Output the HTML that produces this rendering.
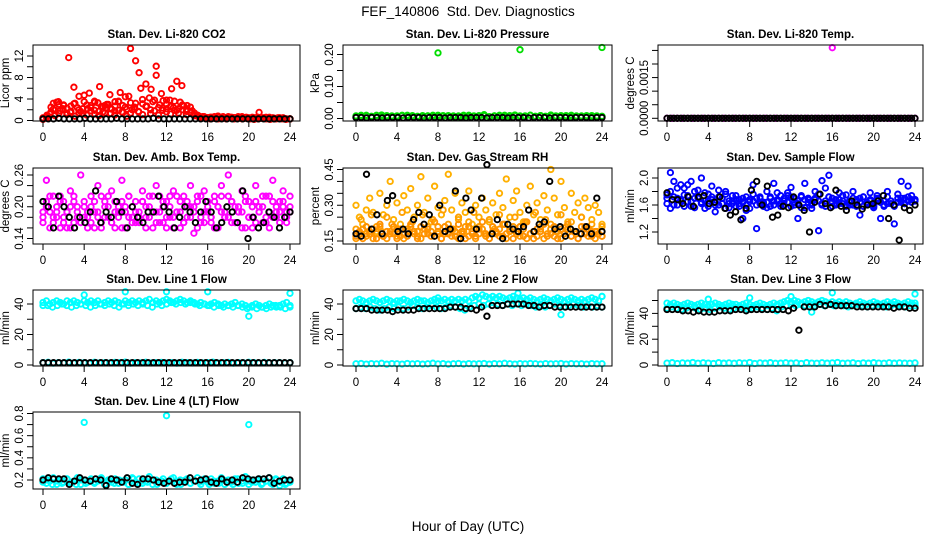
<!DOCTYPE html>
<html><head><meta charset="utf-8">
<style>
html,body{margin:0;padding:0;background:#fff;}
svg{display:block;font-family:"Liberation Sans",Arial,sans-serif;}
</style></head>
<body>
<svg id="fig" width="936" height="540" viewBox="0 0 936 540">
<rect width="936" height="540" fill="#fff"/>
<text x="468" y="16" text-anchor="middle" font-size="13.5">FEF_140806&#160; Std. Dev. Diagnostics</text>
<text x="468" y="531" text-anchor="middle" font-size="13.5">Hour of Day (UTC)</text>
</svg>
<script>
// ---------- data ----------
const xTicks = [0,4,8,12,16,20,24];
const xTickLabels = ["0","4","8","12","16","20","24"];

// CO2 (Licor ppm)
const co2RedA = [0.3,0.4,3.2,3.5,2.8,11.7,6.2,4.5,4.7,5.1,3.6,6.3,2.8,4.8,3.5,5.2,4.4,13.4,11.1,6.0,6.8,5.8,8.4,5.0,3.8,5.9,7.3,6.5,2.8,1.8,1.0,0.7,0.5,0.6,0.8,0.7,0.6,0.5,0.6,0.4,0.5,0.4,1.5,0.5,0.6,0.4,0.5,0.3,0.3];
const co2RedB = [0.4,0.6,1.2,2.1,3.4,1.8,2.9,2.3,1.5,3.1,2.4,1.7,3.5,2.2,2.8,1.9,3.3,2.6,1.4,3.0,2.1,2.7,3.6,1.6,2.5,4.5,2.0,3.2,8.9,3.9,2.6,4.2,3.5,10.1,2.9,3.7,2.2,3.8,2.4,1.9,3.4,2.7,2.0,1.5,1.0,0.8,0.6,0.7,0.5,0.6,0.7,0.8,0.6,0.5,0.7,0.6,0.5,0.6,0.7,0.5,0.4,0.6,0.5,0.4,0.5,0.6,0.4,0.5,0.3,0.4,0.5,0.3,0.3];
const co2RedC = [0.2,0.8,1.6,0.9,1.3,2.0,1.1,1.7,0.8,1.4,2.2,1.0,1.8,1.2,0.9,1.6,2.4,1.3,1.0,1.9,1.5,0.8,1.4,2.1,1.7,1.1,2.6,1.3,1.8,1.0,2.3,1.6,1.2,1.9,1.4,2.0,1.1,1.5,0.9,0.7,0.5,0.4,0.3,0.4,0.3,0.4,0.3,0.5,0.3,0.4,0.3,0.4,0.3,0.2,0.3,0.4,0.3,0.2,0.3,0.4,0.3,0.2,0.3];
const co2RedD = [0.5,1.0,2.5,1.9,3.0,2.2,1.4,2.7,3.2,2.0,1.3,2.9,2.4,3.4,1.7,2.6,3.0,2.3,1.8,3.5,2.8,2.1,3.3,2.5,1.6,3.1,2.7,2.0,3.8,2.4,1.9,3.0,2.6,3.6,2.2,2.9,1.7,2.5,1.4,0.9,0.6,0.5,0.6,0.5,0.7,0.6,0.5,0.6,0.5,0.7,0.5,0.6,0.4,0.5,0.6,0.4,0.5,0.4,0.3,0.5,0.4,0.3,0.3];
const co2Black = [0.3,0.3,0.3,0.4,0.3,0.3,0.3,0.3,0.4,0.3,0.3,0.3,0.3,0.3,0.4,0.3,0.3,0.3,0.3,0.3,0.3,0.4,0.3,0.3,0.3,0.3,0.3,0.3,0.3,0.3,0.3,0.3,0.3,0.3,0.3,0.3,0.3,0.3,0.3,0.3,0.3,0.3,0.3,0.3,0.3,0.3,0.3,0.3];

// Pressure (kPa)
const presGreen = [0.005,0.01,0.008,0.006,0.01,0.007,0.009,0.005,0.008,0.01,0.006,0.009,0.007,0.005,0.008,0.01,0.006,0.009,0.007,0.008,0.005,0.01,0.006,0.008,0.007,0.009,0.005,0.008,0.01,0.006,0.009,0.011,0.007,0.008,0.01,0.006,0.009,0.007,0.011,0.008,0.006,0.009,0.007,0.008,0.005,0.009,0.006,0.008,0.007];
const presGreenB = [0.008,0.006,0.01,0.007,0.009,0.011,0.006,0.008,0.005,0.009,0.01,0.007,0.006,0.009,0.008,0.006,0.01,0.007,0.009,0.005,0.008,0.006,0.01,0.007,0.009,0.012,0.006,0.008,0.007,0.01,0.005,0.009,0.008,0.006,0.01,0.007,0.009,0.006,0.008,0.005,0.009,0.007,0.01,0.006,0.008,0.007,0.009,0.005,0.006];
const presOutX = [8,16,24];
const presOutY = [0.205,0.215,0.222];
const presBlack = [0.003,0.003,0.002,0.003,0.003,0.002,0.003,0.003,0.003,0.002,0.003,0.003,0.003,0.002,0.003,0.003,0.003,0.002,0.003,0.003,0.003,0.002,0.003,0.003,0.003,0.002,0.003,0.003,0.003,0.002,0.003,0.003,0.003,0.002,0.003,0.003,0.003,0.002,0.003,0.003,0.003,0.002,0.003,0.003,0.003,0.002,0.003,0.003];

// Li-820 temp (degrees C)
const tempMag = [0,0,0,0,0,0,0,0,0,0,0,0,0,0,0,0,0,0,0,0,0,0,0,0,0,0,0,0,0,0,0,0,0,0,0,0,0,0,0,0,0,0,0,0,0,0,0,0,0];
const tempOutX = [16];
const tempOutY = [0.0026];
const tempBlack = [0,0,0,0,0,0,0,0,0,0,0,0,0,0,0,0,0,0,0,0,0,0,0,0,0,0,0,0,0,0,0,0,0,0,0,0,0,0,0,0,0,0,0,0,0,0,0,0,0,0,0,0,0,0,0,0,0,0,0,0,0,0,0,0,0,0,0,0,0,0,0,0,0];

// Amb box temp
const ambMagA = [0.17,0.25,0.19,0.22,0.18,0.16,0.21,0.19,0.23,0.17,0.20,0.26,0.18,0.16,0.22,0.19,0.24,0.17,0.21,0.18,0.23,0.16,0.20,0.25,0.19,0.22,0.17,0.21,0.18,0.23,0.16,0.20,0.19,0.24,0.22,0.17,0.21,0.18,0.23,0.19,0.16,0.22,0.20,0.24,0.15,0.21,0.18,0.23,0.19,0.17,0.22,0.20,0.24,0.18,0.26,0.21,0.17,0.19,0.23,0.16,0.21,0.18,0.24,0.20,0.17,0.22,0.19,0.25,0.18,0.21,0.23,0.19,0.22];
const ambMagB = [0.19,0.21,0.16,0.18,0.20,0.22,0.17,0.19,0.16,0.21,0.18,0.17,0.20,0.19,0.17,0.21,0.18,0.16,0.20,0.22,0.17,0.19,0.18,0.21,0.16,0.18,0.20,0.17,0.19,0.21,0.18,0.22,0.16,0.19,0.17,0.20,0.18,0.22,0.16,0.19,0.21,0.17,0.18,0.20,0.19,0.16,0.22,0.17,0.20,0.18,0.21,0.16,0.19,0.18,0.22,0.17,0.20,0.19,0.16,0.21,0.18,0.20,0.17,0.19,0.22,0.18,0.16,0.21,0.19,0.17,0.20,0.18,0.19];
const ambMagC = [0.18,0.20,0.22,0.17,0.19,0.21,0.18,0.16,0.20,0.22,0.19,0.17,0.21,0.18,0.20,0.16,0.19,0.22,0.18,0.20,0.17,0.21,0.19,0.16,0.20,0.22,0.18,0.19,0.17,0.21,0.20,0.18,0.22,0.17,0.19,0.21,0.16,0.20,0.18,0.22,0.19,0.17,0.21,0.18,0.20,0.22,0.17,0.19,0.21,0.18,0.16,0.20,0.22,0.19,0.18,0.21,0.17,0.20,0.19,0.22,0.18,0.16,0.21,0.19,0.20,0.17,0.22,0.18,0.20,0.19,0.21,0.17,0.20];
const ambBlack = [0.21,0.20,0.16,0.22,0.20,0.18,0.16,0.18,0.17,0.19,0.23,0.17,0.19,0.18,0.21,0.19,0.16,0.20,0.18,0.17,0.19,0.19,0.22,0.20,0.19,0.16,0.18,0.20,0.19,0.17,0.19,0.21,0.19,0.16,0.17,0.20,0.19,0.17,0.23,0.14,0.18,0.16,0.17,0.19,0.18,0.16,0.18,0.19];

// Gas stream RH (percent)
const rhA = [0.30,0.25,0.22,0.28,0.33,0.27,0.19,0.35,0.26,0.30,0.40,0.24,0.31,0.22,0.34,0.28,0.37,0.25,0.30,0.42,0.27,0.33,0.23,0.38,0.29,0.26,0.32,0.43,0.28,0.35,0.24,0.31,0.27,0.36,0.22,0.30,0.25,0.33,0.28,0.23,0.31,0.26,0.35,0.29,0.41,0.25,0.32,0.36,0.27,0.23,0.30,0.38,0.26,0.31,0.24,0.34,0.28,0.45,0.33,0.26,0.40,0.29,0.23,0.35,0.27,0.31,0.25,0.33,0.29,0.24,0.30,0.27,0.22];
const rhB = [0.17,0.19,0.16,0.21,0.18,0.20,0.16,0.22,0.17,0.19,0.18,0.21,0.16,0.20,0.18,0.17,0.22,0.19,0.16,0.21,0.18,0.20,0.17,0.23,0.19,0.16,0.21,0.18,0.20,0.17,0.22,0.19,0.16,0.21,0.18,0.17,0.20,0.23,0.18,0.16,0.21,0.19,0.17,0.22,0.18,0.20,0.16,0.19,0.21,0.17,0.23,0.18,0.16,0.20,0.19,0.22,0.17,0.18,0.21,0.16,0.20,0.18,0.22,0.17,0.19,0.16,0.21,0.18,0.20,0.17,0.19,0.18,0.17];
const rhC = [0.20,0.24,0.18,0.26,0.21,0.19,0.25,0.22,0.17,0.27,0.20,0.23,0.19,0.26,0.21,0.24,0.18,0.28,0.22,0.20,0.25,0.19,0.23,0.27,0.21,0.18,0.24,0.20,0.26,0.22,0.19,0.25,0.21,0.23,0.18,0.27,0.20,0.24,0.22,0.19,0.26,0.21,0.23,0.18,0.25,0.20,0.22,0.19,0.21];
const rhD = [0.16,0.18,0.20,0.17,0.19,0.16,0.18,0.21,0.17,0.16,0.19,0.18,0.20,0.17,0.16,0.19,0.21,0.18,0.17,0.16,0.20,0.18,0.19,0.17,0.21,0.16,0.18,0.20,0.17,0.19,0.16,0.18,0.21,0.17,0.19,0.16,0.18,0.20,0.17,0.16,0.19,0.18,0.20,0.17,0.16,0.19,0.21,0.18,0.17,0.20,0.16,0.18,0.19,0.17,0.21,0.16,0.18,0.20,0.17,0.19,0.16,0.18,0.20,0.17,0.19,0.16,0.18,0.21,0.17,0.19,0.16,0.18,0.17];
const rhBlack = [0.18,0.17,0.43,0.20,0.26,0.18,0.32,0.34,0.19,0.20,0.18,0.24,0.27,0.22,0.26,0.17,0.30,0.19,0.20,0.36,0.16,0.33,0.28,0.20,0.33,0.47,0.18,0.24,0.16,0.22,0.20,0.19,0.21,0.28,0.19,0.22,0.23,0.40,0.20,0.21,0.17,0.20,0.19,0.18,0.21,0.18,0.33,0.19];

// Sample flow
const flowBlueA = [1.75,2.08,1.95,1.70,1.90,1.85,1.65,1.95,1.80,1.72,2.00,1.78,1.66,1.88,1.60,1.82,1.70,1.76,1.62,1.74,1.68,1.58,1.40,1.72,1.65,1.90,1.25,1.70,1.62,1.80,1.58,1.92,1.66,1.74,1.60,1.78,1.86,1.64,1.40,1.72,1.92,1.68,1.55,1.80,1.22,1.96,1.85,2.04,1.70,1.62,1.78,1.66,1.75,1.60,1.80,1.68,1.45,1.72,1.64,1.78,1.58,1.74,1.40,1.66,1.80,1.62,1.32,1.76,1.95,1.70,1.88,1.74,1.68];
const flowBlueB = [1.62,1.55,1.72,1.60,1.68,1.58,1.74,1.65,1.56,1.70,1.62,1.66,1.58,1.72,1.64,1.60,1.70,1.55,1.66,1.62,1.58,1.68,1.64,1.60,1.55,1.66,1.70,1.62,1.58,1.64,1.72,1.60,1.68,1.62,1.66,1.74,1.58,1.70,1.62,1.56,1.68,1.64,1.60,1.70,1.66,1.62,1.58,1.72,1.64,1.60,1.68,1.62,1.58,1.66,1.60,1.64,1.70,1.58,1.62,1.66,1.60,1.68,1.64,1.58,1.62,1.66,1.60,1.64,1.70,1.62,1.66,1.64,1.68];
const flowBlueC = [1.70,1.80,1.60,1.85,1.66,1.75,1.90,1.58,1.70,1.82,1.64,1.55,1.76,1.68,1.50,1.72,1.62,1.80,1.56,1.66,1.74,1.62,1.70,1.52,1.68,1.76,1.60,1.72,1.64,1.56,1.70,1.66,1.78,1.58,1.70,1.64,1.72,1.60,1.66,1.74,1.56,1.70,1.62,1.68,1.76,1.60,1.66,1.72,1.58,1.68,1.62,1.74,1.60,1.66,1.70,1.58,1.64,1.72,1.62,1.68,1.56,1.70,1.64,1.60,1.72,1.66,1.58,1.70,1.64,1.62,1.72,1.68,1.66];
const flowBlack = [1.78,1.68,1.68,1.62,1.72,1.58,1.72,1.74,1.62,1.64,1.72,1.55,1.45,1.50,1.38,1.55,1.82,1.95,1.60,1.88,1.42,1.45,1.58,1.56,1.72,1.60,1.52,1.20,1.64,1.76,1.62,1.56,1.82,1.58,1.52,1.66,1.60,1.54,1.60,1.62,1.66,1.74,1.40,1.60,1.08,1.56,1.52,1.60];

// Line 1 flow
const l1CyanA = [41,42,40,41,42,41,40,42,41,42,41,40,42,41,42,41,42,40,41,42,41,42,41,40,42,41,42,41,42,41,42,43,41,42,41,42,43,42,41,42,43,42,41,42,41,40,41,40,39,40,41,40,39,40,39,40,41,39,40,39,38,39,40,39,38,39,40,39,38,39,40,41,39];
const l1CyanB = [39,39,38,39,40,39,38,39,40,39,38,39,40,39,40,39,38,40,39,40,39,40,39,38,40,39,40,41,40,41,40,41,40,39,40,39,38,39,38,39,38,39,38,37,38,37,38,37,38,39,38,37,38];
const l1OutX = [4,8,12,16,20,24];
const l1OutY = [46,48,48,48,32,47];
const l1CyanLow = [1.5,1.8,1.2,1.6,1.4,1.9,1.3,1.7,1.5,1.2,1.8,1.4,1.6,1.3,1.7,1.5,1.9,1.2,1.6,1.4,1.8,1.3,1.5,1.7,1.4,1.6,1.2,1.8,1.5,1.3,1.7,1.4,1.6,1.9,1.3,1.5,1.7,1.2,1.6,1.4,1.8,1.5,1.3,1.7,1.4,1.6,1.5,1.3,1.6];
const l1Black = [1.5,1.5,1.5,1.5,1.5,1.5,1.5,1.5,1.5,1.5,1.5,1.5,1.5,1.5,1.5,1.5,1.5,1.5,1.5,1.5,1.5,1.5,1.5,1.5,1.5,1.5,1.5,1.5,1.5,1.5,1.5,1.5,1.5,1.5,1.5,1.5,1.5,1.5,1.5,1.5,1.5,1.5,1.5,1.5,1.5,1.5,1.5,1.5];

// Line 2 flow
const l2CyanA = [42,43,42,41,42,43,42,41,42,43,42,41,42,42,43,42,41,42,43,42,42,41,42,43,42,42,43,42,43,42,43,42,43,42,44,45,44,46,45,44,45,44,45,44,43,44,45,44,43,44,43,44,43,42,43,44,43,42,43,44,43,42,43,44,43,42,43,42,43,44,43,42,45];
const l2CyanB = [37,38,37,38,37,36,37,38,37,38,37,38,39,38,37,38,39,38,37,38,39,38,37,36,38,39,40,39,40,41,40,39,40,39,40,39,40,39,38,39,38,39,40,39,38,39,40,39,38,39,38,39,38];
const l2OutX = [8,12,15.8,20,24];
const l2OutY = [44,44,47,33,45];
const l2CyanLow = [0.8,1.0,0.6,0.9,0.7,1.1,0.5,0.9,0.8,0.6,1.0,0.7,0.9,0.6,0.8,1.2,0.7,0.9,0.5,0.8,1.0,0.6,0.9,0.7,0.8,1.0,0.6,0.9,0.7,1.1,0.8,0.6,0.9,0.7,1.0,0.8,0.6,0.9,0.7,0.8,1.0,0.6,0.9,0.7,0.8,0.6,0.9,0.7,0.8];
const l2Black = [37,37,37,36,36,36,36,35,36,36,36,36,37,37,37,37,37,37,38,38,38,37,37,36,38,32,39,39,39,40,40,40,40,39,39,38,39,39,38,38,38,38,38,38,38,38,38,38];

// Line 3 flow
const l3CyanA = [48,47,48,47,46,47,48,47,46,47,48,47,46,47,48,47,46,47,48,47,47,46,47,48,47,46,47,48,47,46,47,48,47,48,49,50,49,50,49,48,49,50,49,48,49,50,49,48,49,48,49,48,49,48,47,48,49,48,47,48,49,48,47,48,49,48,49,48,47,48,49,48,48];
const l3CyanB = [44,45,44,43,44,45,44,43,44,43,44,45,44,43,44,45,44,43,44,45,44,43,44,42,45,46,47,46,47,46,47,46,47,46,47,46,47,46,45,46,47,46,45,46,47,46,45,46,47,46,45,46,46];
const l3OutX = [4,8,12,14,16,24];
const l3OutY = [51,52,53,41,56,55];
const l3CyanLow = [1.5,1.8,1.2,1.6,1.4,1.9,1.3,1.7,1.5,1.2,1.8,1.4,1.6,1.3,1.7,1.5,1.9,1.2,1.6,1.4,1.8,1.3,1.5,1.7,1.4,1.6,1.2,1.8,1.5,1.3,1.7,1.4,1.6,1.9,1.3,1.5,1.7,1.2,1.6,1.4,1.8,1.5,1.3,1.7,1.4,1.6,1.5,1.3,1.6];
const l3Black = [43,43,43,42,42,41,42,41,41,41,42,42,42,43,43,42,43,43,43,43,43,43,43,42,44,27,45,45,45,47,46,47,46,46,46,46,45,45,45,45,45,45,45,44,45,45,44,44];

// Line 4 (LT) flow
const l4CyanA = [0.21,0.17,0.19,0.22,0.16,0.20,0.18,0.21,0.17,0.19,0.22,0.16,0.20,0.18,0.21,0.17,0.19,0.22,0.16,0.20,0.18,0.21,0.17,0.19,0.20,0.16,0.22,0.18,0.21,0.17,0.19,0.23,0.16,0.20,0.18,0.21,0.17,0.19,0.22,0.16,0.20,0.18,0.21,0.17,0.19,0.22,0.16,0.20,0.18,0.21,0.17,0.19,0.22,0.16,0.20,0.18,0.21,0.17,0.19,0.23,0.16,0.20,0.18,0.21,0.17,0.19,0.22,0.16,0.20,0.15,0.21,0.17,0.18];
const l4CyanB = [0.18,0.20,0.16,0.19,0.17,0.21,0.18,0.16,0.20,0.17,0.19,0.18,0.21,0.16,0.19,0.17,0.20,0.18,0.16,0.21,0.17,0.19,0.18,0.20,0.16,0.19,0.17,0.21,0.18,0.16,0.20,0.17,0.19,0.18,0.21,0.16,0.19,0.17,0.20,0.18,0.16,0.21,0.17,0.19,0.18,0.20,0.16,0.19,0.17,0.21,0.18,0.16,0.19];
const l4OutX = [4,12,20];
const l4OutY = [0.72,0.78,0.70];
const l4Black = [0.20,0.22,0.21,0.21,0.21,0.16,0.19,0.22,0.20,0.19,0.21,0.20,0.15,0.21,0.20,0.18,0.22,0.17,0.16,0.21,0.21,0.20,0.18,0.17,0.19,0.17,0.18,0.18,0.22,0.19,0.20,0.21,0.18,0.17,0.21,0.18,0.20,0.18,0.22,0.21,0.20,0.21,0.21,0.22,0.17,0.19,0.20,0.20];

// ---------- layout ----------
const NS = "http://www.w3.org/2000/svg";
const svg = document.getElementById('fig');
function mk(tag, attrs, parent){ const e=document.createElementNS(NS,tag); for(const k in attrs) e.setAttribute(k,attrs[k]); (parent||svg).appendChild(e); return e; }

const cols = [{bl:33,br:300,x0:43,x24:290},{bl:343,br:612,x0:356,x24:602},{bl:658,br:923,x0:667,x24:915}];
const rows = [{bt:45,bb:121},{bt:168,bb:244},{bt:290,bb:366},{bt:412,bb:489}];

const panels = [
 {key:'co2',title:'Stan. Dev. Li-820 CO2',ylab:'Licor ppm',c:0,r:0,ya:[0,120.5],yb:[12,56],yt:[0,2,4,6,8,10,12],yl:['0','','4','','8','','12'],
  series:[['red',co2RedC],['red',co2RedD],['red',co2RedB],['red',co2RedA],['black',co2Black]]},
 {key:'pressure',title:'Stan. Dev. Li-820 Pressure',ylab:'kPa',c:1,r:0,ya:[0,118.5],yb:[0.2,54.5],yt:[0,0.05,0.1,0.15,0.2],yl:['0.00','','0.10','','0.20'],
  series:[['#00dd00',presGreen],['#00dd00',presGreenB],['black',presBlack],['#00dd00',presOutY,presOutX]]},
 {key:'temp',title:'Stan. Dev. Li-820 Temp.',ylab:'degrees C',c:2,r:0,ya:[0,118.3],yb:[0.002,64],yt:[0,0.0005,0.001,0.0015,0.002,0.0025],yl:['0.0000','','','0.0015','',''],
  series:[['magenta',tempMag],['black',tempBlack],['magenta',tempOutY,tempOutX]]},
 {key:'amb',title:'Stan. Dev. Amb. Box Temp.',ylab:'degrees C',c:0,r:1,ya:[0.14,238.5],yb:[0.26,175],yt:[0.14,0.16,0.18,0.2,0.22,0.24,0.26],yl:['0.14','','','0.20','','','0.26'],
  series:[['magenta',ambMagC],['magenta',ambMagB],['magenta',ambMagA],['black',ambBlack]]},
 {key:'rh',title:'Stan. Dev. Gas Stream RH',ylab:'percent',c:1,r:1,ya:[0.15,241],yb:[0.45,169.5],yt:[0.15,0.2,0.25,0.3,0.35,0.4,0.45],yl:['0.15','','','0.30','','','0.45'],
  series:[['#ffb000',rhA],['#ffa000',rhC],['#ff9800',rhD],['#ff9000',rhB],['black',rhBlack]]},
 {key:'sample',title:'Stan. Dev. Sample Flow',ylab:'ml/min',c:2,r:1,ya:[1.2,232],yb:[2.0,178],yt:[1.2,1.4,1.6,1.8,2.0],yl:['1.2','','1.6','','2.0'],
  series:[['blue',flowBlueA],['blue',flowBlueC],['blue',flowBlueB],['black',flowBlack]]},
 {key:'line1',title:'Stan. Dev. Line 1 Flow',ylab:'ml/min',c:0,r:2,ya:[0,365],yb:[40,304],yt:[0,10,20,30,40],yl:['0','','20','','40'],
  series:[['cyan',l1CyanA],['cyan',l1CyanB],['cyan',l1OutY,l1OutX],['cyan',l1CyanLow],['black',l1Black]]},
 {key:'line2',title:'Stan. Dev. Line 2 Flow',ylab:'ml/min',c:1,r:2,ya:[0,365],yb:[40,304],yt:[0,10,20,30,40],yl:['0','','20','','40'],
  series:[['cyan',l2CyanA],['cyan',l2CyanB],['cyan',l2OutY,l2OutX],['cyan',l2CyanLow],['black',l2Black]]},
 {key:'line3',title:'Stan. Dev. Line 3 Flow',ylab:'ml/min',c:2,r:2,ya:[0,365],yb:[40,313.4],yt:[0,10,20,30,40,50],yl:['0','','20','','40',''],
  series:[['cyan',l3CyanA],['cyan',l3CyanB],['cyan',l3OutY,l3OutX],['cyan',l3CyanLow],['black',l3Black]]},
 {key:'line4',title:'Stan. Dev. Line 4 (LT) Flow',ylab:'ml/min',c:0,r:3,ya:[0.2,480],yb:[0.8,413.5],yt:[0.2,0.3,0.4,0.5,0.6,0.7,0.8],yl:['0.2','','0.4','','0.6','','0.8'],
  series:[['cyan',l4CyanA],['cyan',l4CyanB],['cyan',l4OutY,l4OutX],['black',l4Black]]}
];

panels.forEach(p=>{
  const C=cols[p.c], R=rows[p.r];
  const g=mk('g',{});
  
  
  const xs = h => C.x0 + (C.x24-C.x0)*h/24;
  const ys = v => p.ya[1] + (p.yb[1]-p.ya[1])*(v-p.ya[0])/(p.yb[0]-p.ya[0]);
  const pg=mk('g',{fill:'none','stroke-width':'1.9'},g);
  
  
  p.series.forEach(s=>{
    const col=s[0], vals=s[1], hx=s[2];
    vals.forEach((v,i)=>{
      const h = hx ? hx[i] : i*24/(vals.length-1);
      const c=mk('circle',{cx:xs(h).toFixed(1),cy:ys(v).toFixed(1),r:'2.7',stroke:col},pg);
      
      
    });
  });
  const box=mk('rect',{x:C.bl,y:R.bt,width:C.br-C.bl,height:R.bb-R.bt,fill:'none',stroke:'#000','stroke-width':'1'},g);
  
  
  const xa=mk('g',{stroke:'#000','stroke-width':'1'},g);
  
  
  mk('line',{x1:xs(0),x2:xs(24),y1:R.bb,y2:R.bb},xa);
  xTicks.forEach((t,i)=>{
    mk('line',{x1:xs(t),x2:xs(t),y1:R.bb,y2:R.bb+6},xa);
    const tx=mk('text',{x:xs(t),y:R.bb+20,'text-anchor':'middle','font-size':'11.5',stroke:'none',fill:'#000'},g);
    tx.textContent=xTickLabels[i];
    
    
  });
  const ya=mk('g',{stroke:'#000','stroke-width':'1'},g);
  
  
  mk('line',{x1:C.bl,x2:C.bl,y1:ys(p.yt[0]),y2:ys(p.yt[p.yt.length-1])},ya);
  p.yt.forEach((t,i)=>{
    const y=ys(t);
    mk('line',{x1:C.bl-6,x2:C.bl,y1:y,y2:y},ya);
    if(p.yl[i]){
      const tx=mk('text',{x:C.bl-10,y:y,'text-anchor':'middle','font-size':'11.5',fill:'#000',transform:`rotate(-90 ${C.bl-10} ${y})`},g);
      tx.textContent=p.yl[i];
      
      
    }
  });
  const yt=mk('text',{x:C.bl-24,y:(R.bt+R.bb)/2,'text-anchor':'middle','font-size':'11.5',fill:'#000',transform:`rotate(-90 ${C.bl-24} ${(R.bt+R.bb)/2})`},g);
  yt.textContent=p.ylab;
  
  
  const tt=mk('text',{x:(C.bl+C.br)/2,y:R.bt-7,'text-anchor':'middle','font-size':'11.5','font-weight':'bold',fill:'#000'},g);
  tt.textContent=p.title;
  
  
});
</script>
</body></html>
